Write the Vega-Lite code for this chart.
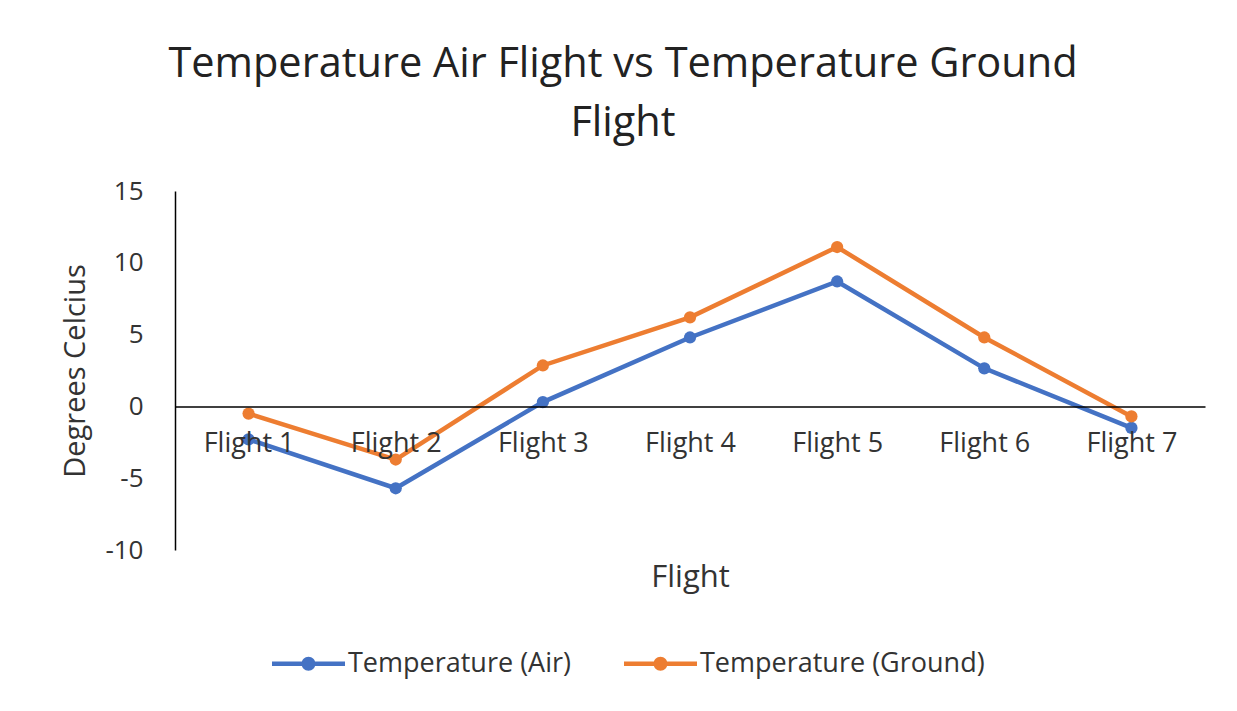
{
  "$schema": "https://vega.github.io/schema/vega-lite/v6.json",
  "width": 1030,
  "height": 359,
  "autosize": {"type": "none"},
  "padding": {"left": 175, "top": 191, "right": 32, "bottom": 161},
  "background": "white",
  "config": {
    "view": {"stroke": null},
    "font": "Open Sans"
  },
  "title": {
    "text": ["Temperature Air Flight vs Temperature Ground", "Flight"],
    "fontSize": 41.5,
    "fontWeight": "normal",
    "font": "Open Sans",
    "color": "#222222",
    "lineHeight": 59,
    "anchor": "middle",
    "dx": -67,
    "offset": 34
  },
  "data": {
    "values": [
      {"flight": "Flight 1", "series": "Temperature (Air)", "temp": -2.3},
      {"flight": "Flight 2", "series": "Temperature (Air)", "temp": -5.7},
      {"flight": "Flight 3", "series": "Temperature (Air)", "temp": 0.3},
      {"flight": "Flight 4", "series": "Temperature (Air)", "temp": 4.8},
      {"flight": "Flight 5", "series": "Temperature (Air)", "temp": 8.7},
      {"flight": "Flight 6", "series": "Temperature (Air)", "temp": 2.65},
      {"flight": "Flight 7", "series": "Temperature (Air)", "temp": -1.5},
      {"flight": "Flight 1", "series": "Temperature (Ground)", "temp": -0.5},
      {"flight": "Flight 2", "series": "Temperature (Ground)", "temp": -3.7},
      {"flight": "Flight 3", "series": "Temperature (Ground)", "temp": 2.85},
      {"flight": "Flight 4", "series": "Temperature (Ground)", "temp": 6.2},
      {"flight": "Flight 5", "series": "Temperature (Ground)", "temp": 11.1},
      {"flight": "Flight 6", "series": "Temperature (Ground)", "temp": 4.8},
      {"flight": "Flight 7", "series": "Temperature (Ground)", "temp": -0.7}
    ]
  },
  "encoding": {
    "x": {
      "field": "flight",
      "type": "nominal",
      "sort": null,
      "scale": {"type": "point", "padding": 0.5},
      "axis": {
        "title": "Flight",
        "labelAngle": 0,
        "offset": -143.6,
        "ticks": false,
        "domainColor": "#000000",
        "domainWidth": 1.5,
        "labelPadding": 24,
        "labelFontSize": 27,
        "labelColor": "#333333",
        "labelFont": "Open Sans",
        "titleFont": "Open Sans",
        "titleFontSize": 31,
        "titleFontWeight": "normal",
        "titleColor": "#333333",
        "titleY": 171,
        "titleBaseline": "middle",
        "zindex": 1
      }
    },
    "y": {
      "field": "temp",
      "type": "quantitative",
      "scale": {"domain": [-10, 15], "nice": false, "zero": false},
      "axis": {
        "title": "Degrees Celcius",
        "values": [-10, -5, 0, 5, 10, 15],
        "labelExpr": "datum.value + ''",
        "grid": false,
        "ticks": false,
        "domainColor": "#000000",
        "domainWidth": 1.5,
        "labelPadding": 32,
        "labelFontSize": 26,
        "labelColor": "#333333",
        "labelFont": "Open Sans",
        "titleFont": "Open Sans",
        "titleFontSize": 29,
        "titleFontWeight": "normal",
        "titleColor": "#333333",
        "titleAngle": -90,
        "titleX": -100,
        "titleY": 179.5,
        "titleAlign": "center",
        "titleBaseline": "middle"
      }
    },
    "color": {
      "field": "series",
      "type": "nominal",
      "scale": {
        "domain": ["Temperature (Air)", "Temperature (Ground)"],
        "range": ["#4472C4", "#ED7D31"]
      },
      "legend": {
        "title": null,
        "orient": "none",
        "direction": "horizontal",
        "legendX": 97,
        "legendY": 436,
        "padding": 0,
        "labelFontSize": 27,
        "labelLimit": 500,
        "labelFont": "Open Sans",
        "labelColor": "#333333",
        "labelOffset": 3,
        "columnPadding": 53,
        "symbolType": "M-1,-0.062H1V0.062H-1Z M0.19,0A0.19,0.19,0,1,1,-0.19,0A0.19,0.19,0,1,1,0.19,0Z",
        "symbolSize": 5329,
        "symbolStrokeWidth": 0,
        "encode": {
          "symbols": {
            "update": {
              "fill": {"scale": "color", "field": "value"},
              "fillOpacity": {"value": 1},
              "strokeWidth": {"value": 0}
            }
          }
        }
      }
    }
  },
  "layer": [
    {"mark": {"type": "line", "strokeWidth": 4.5}},
    {"mark": {"type": "point", "filled": true, "size": 150, "opacity": 1}}
  ]
}
